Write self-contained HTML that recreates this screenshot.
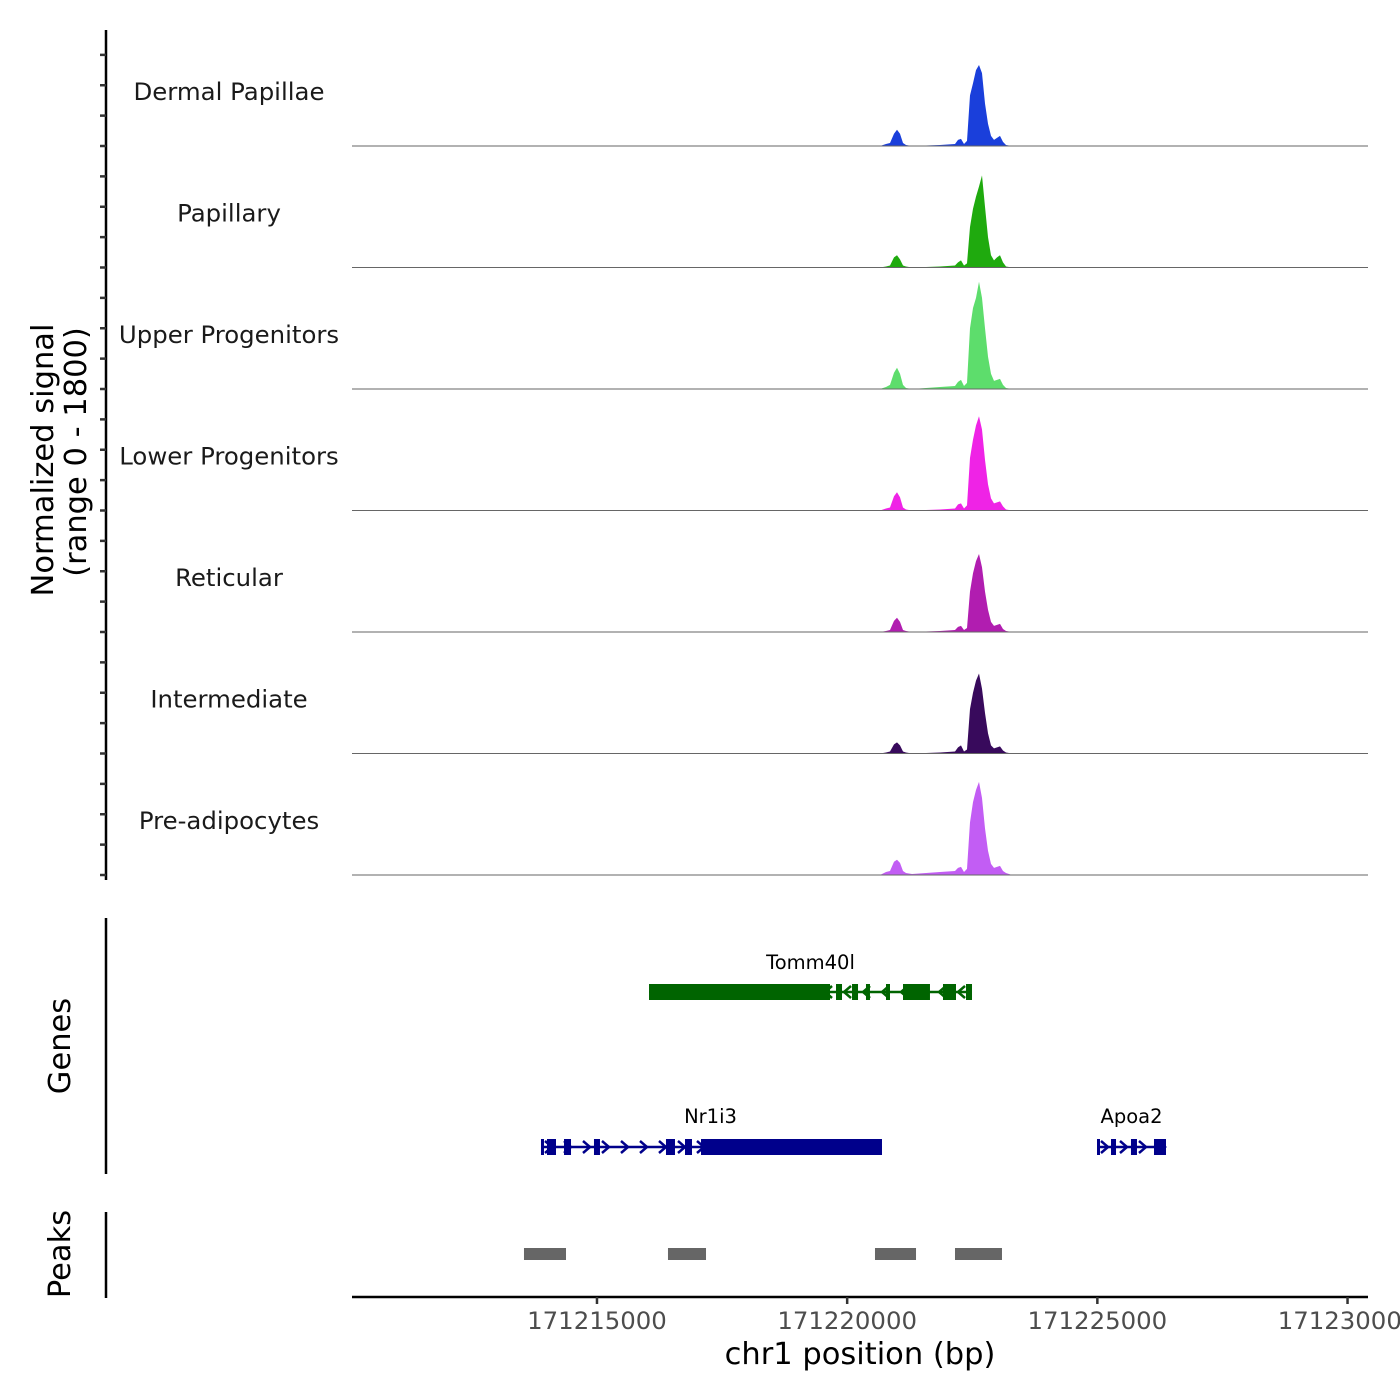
<!DOCTYPE html>
<html><head><meta charset="utf-8"><style>
html,body{margin:0;padding:0;background:#fff;}
svg{display:block;font-family:"DejaVu Sans","Liberation Sans",sans-serif;}
</style></head><body>
<svg id="chart" width="1400" height="1400" viewBox="0 0 1400 1400" xmlns="http://www.w3.org/2000/svg">
<g id="tracks"></g>
<g id="genes"></g>
<g id="peaks"></g>
<g id="axes"></g>
</svg>
<script>
const trackNames = ["Dermal Papillae","Papillary","Upper Progenitors","Lower Progenitors","Reticular","Intermediate","Pre-adipocytes"];
const trackColors = ["#1a3fdb","#1faa0e","#5ddd6c","#ef23e6","#b11db0","#380a5c","#c25df4"];
const signalPos = [171210104,171220656,171220776,171220856,171220936,171220996,171221056,171221116,171221176,171221296,171221855,171222155,171222215,171222275,171222335,171222395,171222455,171222515,171222575,171222635,171222695,171222754,171222814,171222874,171222934,171222994,171223054,171223114,171223174,171223294,171230409];
const sigDermal = [0,0,30,45,180,240,180,45,15,0,15,30,90,105,30,75,750,930,1125,1200,1080,630,330,150,90,120,150,60,15,0,0];
const sigPapillary = [0,0,15,30,150,180,120,30,15,0,15,30,75,105,30,60,600,870,1050,1200,1365,900,450,180,105,150,180,75,15,0,0];
const sigUpper = [0,0,30,60,240,315,225,60,15,0,30,45,105,135,45,90,900,1200,1350,1590,1350,900,480,225,120,135,150,60,15,0,0];
const sigLower = [0,0,30,45,210,270,195,45,15,0,15,30,90,105,30,75,780,1050,1260,1395,1200,750,390,180,105,120,135,60,15,0,0];
const sigReticular = [0,0,15,30,165,210,150,30,15,0,15,30,75,90,30,60,600,870,1050,1155,960,600,330,150,90,105,120,45,15,0,0];
const sigIntermediate = [0,0,15,30,135,165,120,30,15,0,15,30,90,120,30,60,660,900,1080,1185,960,600,300,120,75,90,105,45,15,0,0];
const sigPreadipo = [0,0,45,60,195,225,180,60,30,15,45,60,105,120,45,90,780,1080,1260,1380,1140,690,360,165,105,120,135,60,30,0,0];
const xTicks = [171215000,171220000,171225000,171230000];
const xTickLabels = ["171215000","171220000","171225000","171230000"];
const yMax = 1800;
const geneNames = ["Tomm40l","Nr1i3","Apoa2"];
const geneSpans = [[171216040,171222495],[171213881,171220696],[171224993,171226372]];
const geneStrands = ["-","+","+"];
const geneExons = [
 [[171216040,171219657],[171219777,171219897],[171220097,171220217],[171220376,171220456],[171220776,171220856],[171221116,171221655],[171221915,171222175],[171222375,171222495]],
 [[171213881,171213901],[171214001,171214181],[171214341,171214481],[171214940,171215060],[171216379,171216559],[171216759,171216899],[171217079,171220696]],
 [[171224993,171225013],[171225273,171225373],[171225672,171225792],[171226132,171226372]]
];
const peakStarts = [171213541,171216419,171220556,171222155];
const peakEnds = [171214381,171217179,171221376,171223094];

const NS="http://www.w3.org/2000/svg";
const X0=352,X1=1368,BP0=171210104,BP1=171230409;
function xs(bp){return X0+(bp-BP0)*(X1-X0)/(BP1-BP0);}
const trackH=121.5, firstBase=146;
function ys(v,i){return firstBase+i*trackH - v*trackH/yMax;}
function mk(tag,attrs,parent){const e=document.createElementNS(NS,tag);for(const k in attrs)e.setAttribute(k,attrs[k]);parent.appendChild(e);return e;}

const tracksG=document.getElementById('tracks');
const sigs=[sigDermal,sigPapillary,sigUpper,sigLower,sigReticular,sigIntermediate,sigPreadipo];
sigs.forEach((s,i)=>{
  const base=firstBase+i*trackH;
  let d=`M${xs(signalPos[0])},${base}`;
  s.forEach((v,j)=>{d+=` L${xs(signalPos[j]).toFixed(1)},${ys(v,i).toFixed(1)}`;});
  d+=` L${xs(signalPos[signalPos.length-1])},${base} Z`;
  const p=mk('path',{d:d,fill:trackColors[i]},tracksG);
  
  
  const l=mk('line',{x1:X0,x2:X1,y1:base,y2:base,stroke:'#666','stroke-width':1},tracksG);
  
  
  const t=mk('text',{x:229,y:base-46,'text-anchor':'middle','font-size':24.4,fill:'#1a1a1a'},tracksG);
  t.textContent=trackNames[i];
  
  
});

const genesG=document.getElementById('genes');
const geneY=[992,1147,1147], geneCol=["#006400","#00008b","#00008b"], labelY=[969,1123,1123];
geneNames.forEach((g,i)=>{
  const y=geneY[i],c=geneCol[i];
  const a=xs(geneSpans[i][0]),b=xs(geneSpans[i][1]);
  const ln=mk('line',{x1:a,x2:b,y1:y,y2:y,stroke:c,'stroke-width':2.5},genesG);
  
  
  const dir=geneStrands[i]==='+'?1:-1;
  for(let x=a+8;x<b-4;x+=19){
    const ch=mk('path',{d:`M${x-4*dir},${y-6} L${x+3*dir},${y} L${x-4*dir},${y+6}`,stroke:c,'stroke-width':2.5,fill:'none'},genesG);
    
    
  }
  geneExons[i].forEach(e=>{
    const r=mk('rect',{x:xs(e[0]),y:y-8,width:Math.max(3,xs(e[1])-xs(e[0])),height:16,fill:c},genesG);
    
    
  });
  const t=mk('text',{x:(a+b)/2+(i==0?0:i==1?-1:0),y:labelY[i],'text-anchor':'middle','font-size':19.5,fill:'#000'},genesG);
  t.textContent=g;
  
  
});

const peaksG=document.getElementById('peaks');
peakStarts.forEach((s,i)=>{
  const r=mk('rect',{x:xs(s),y:1248,width:xs(peakEnds[i])-xs(s),height:12,fill:'#666'},peaksG);
  
  
});

const ax=document.getElementById('axes');
let e;
e=mk('line',{x1:106,x2:106,y1:30,y2:880,stroke:'#000','stroke-width':2.5},ax);


for(let k=0;k<29;k++){
  const y=firstBase-3*trackH/4+k*trackH/4;
  if(y>881)break;
  e=mk('line',{x1:100,x2:106,y1:y,y2:y,stroke:'#333','stroke-width':2.5},ax);
  
  
}
e=mk('line',{x1:106,x2:106,y1:918,y2:1174,stroke:'#000','stroke-width':2.5},ax);


e=mk('line',{x1:106,x2:106,y1:1212,y2:1298,stroke:'#000','stroke-width':2.5},ax);


e=mk('line',{x1:352,x2:1368,y1:1297,y2:1297,stroke:'#000','stroke-width':2.5},ax);


xTicks.forEach((v,i)=>{
  const x=xs(v);
  e=mk('line',{x1:x,x2:x,y1:1297,y2:1304,stroke:'#333','stroke-width':2.5},ax);
  
  
  e=mk('text',{x:x,y:1329,'text-anchor':'middle','font-size':24.4,fill:'#4d4d4d'},ax);
  e.textContent=xTickLabels[i];
  
  
});
e=mk('text',{x:860,y:1364,'text-anchor':'middle','font-size':30.5,fill:'#000'},ax);
e.textContent='chr1 position (bp)';


e=mk('text',{x:0,y:0,'text-anchor':'middle','font-size':30.5,fill:'#000',transform:'translate(53,460) rotate(-90)'},ax);
e.textContent='Normalized signal';


e=mk('text',{x:0,y:0,'text-anchor':'middle','font-size':30.5,fill:'#000',transform:'translate(86,452) rotate(-90)'},ax);
e.textContent='(range 0 - 1800)';


e=mk('text',{x:0,y:0,'text-anchor':'middle','font-size':30.5,fill:'#000',transform:'translate(70,1046) rotate(-90)'},ax);
e.textContent='Genes';


e=mk('text',{x:0,y:0,'text-anchor':'middle','font-size':30.5,fill:'#000',transform:'translate(70,1254) rotate(-90)'},ax);
e.textContent='Peaks';


</script>
</body></html>
